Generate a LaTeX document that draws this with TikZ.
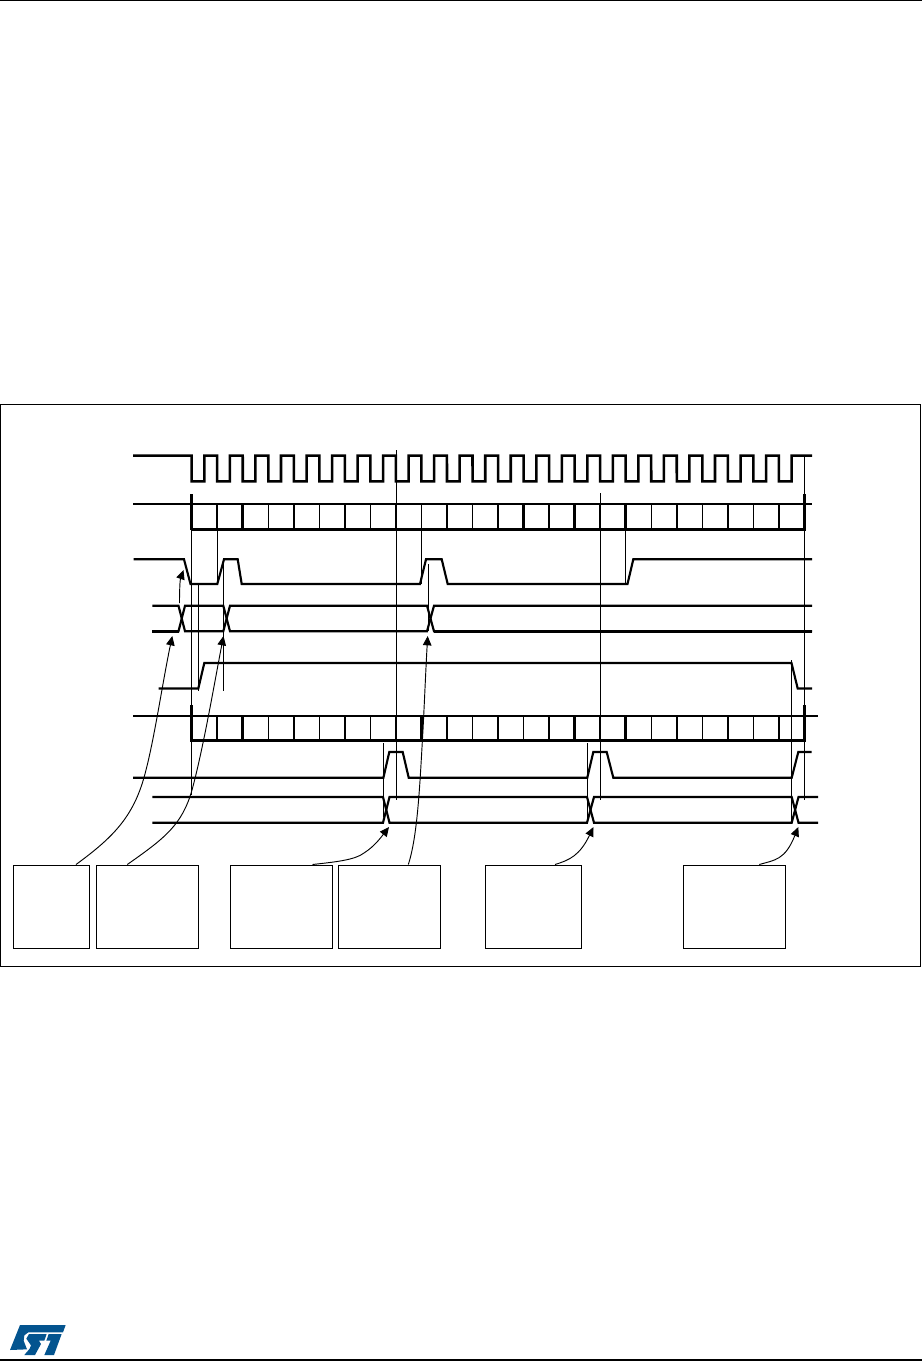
\documentclass[tikz,border=0pt]{standalone}
\usetikzlibrary{arrows.meta}
\definecolor{stblue}{RGB}{3,84,143}
\tikzset{
  x=0.75pt,y=-0.75pt,
  sig/.style={line width=1.6pt,line join=miter,black},
  clk/.style={line width=1.9pt,line join=miter,black},
  sigb/.style={line width=2pt,black},
  guide/.style={line width=0.65pt,black},
  tk/.style={line width=1.1pt,black},
  tkb/.style={line width=1.9pt,black},
  tkend/.style={line width=2.6pt,black},
  conn/.style={line width=0.7pt,black,-{Triangle[length=7pt,width=6.4pt]}},
  msgbox/.style={draw=black,line width=0.7pt,inner sep=0pt,outer sep=0pt,anchor=north west},
  rule/.style={line width=1pt,black}
}
\begin{document}
\begin{tikzpicture}
\useasboundingbox (0,0) rectangle (922,1361);
\fill[white] (0,0) rectangle (922,1361);
% page rules
\draw[rule] (0,0.5) -- (922,0.5);
\draw[rule] (0,1360) -- (922,1360);
% frame
\draw[line width=0.7pt] (0.5,404) rectangle (920,966);
% guides
\draw[guide] (191.7,494) -- (191.7,795);
\draw[guide] (396,450) -- (396,800);
\draw[guide] (600.2,493) -- (600.2,800);
\draw[guide] (804.4,456) -- (804.4,800);
\draw[guide] (217.2,529) -- (217.2,584);
\draw[guide] (198.3,584) -- (198.3,691);
\draw[guide] (223.7,559) -- (223.7,691);
\draw[guide] (421.2,529) -- (421.2,584);
\draw[guide] (428.3,564) -- (428.3,631);
\draw[guide] (625.7,529) -- (625.7,584);
\draw[guide] (791.5,660) -- (791.5,823);
\draw[guide] (383.4,743) -- (383.4,817);
\draw[guide] (587,743) -- (587,820);
% clock
\draw[clk] (133,455.7) -- (191.7,455.7)
  foreach \k in {0,...,23} { -- ({191.7+25.53*\k},481.3) -- ({204.4+25.53*\k},481.3) -- ({204.4+25.53*\k},455.7) -- ({217.2+25.53*\k},455.7) }
  -- (812,455.7);
% byte row 1
\draw[sig] (133,503.7) -- (812,503.7);
\draw[sigb] (191,529.3) -- (805.5,529.3);
\foreach \k in {1,3,5,7,8,9,10,11,12,14,16,18,19,20,21,22,23}
  \draw[tk] ({191.7+25.53*\k},503.7) -- ({191.7+25.53*\k},529.3);
\foreach \k in {2,4,6,13,15,17}
  \draw[tkb] ({191.7+25.53*\k},503.7) -- ({191.7+25.53*\k},529.3);
\foreach \k in {0,24}
  \draw[tkend] ({191.7+25.53*\k},494) -- ({191.7+25.53*\k},530);
% SCL-like wave
\draw[sig] (133.5,559.3) -- (184,559.3) -- (190.5,584) -- (217.3,584) -- (224,559.3) -- (237.7,559.3) -- (241.7,584) -- (420,584) -- (426,559.3) -- (441.7,559.3) -- (447.7,584) -- (627.5,584) -- (633.3,559.3) -- (812,559.3);
% bus pair 1
\draw[sig] (152.3,605.7) -- (178.5,605.7) -- (185,631.3) -- (223.3,631.3) -- (230,605.7) -- (427,605.7) -- (434,631.3) -- (812,631.3);
\draw[sig] (152.3,631.3) -- (178.5,631.3) -- (185,605.7) -- (223.3,605.7) -- (230,631.3) -- (427,631.3) -- (434,605.7) -- (812,605.7);
\draw[sigb] (152.3,631.3) -- (178.5,631.3);
\draw[sigb] (434,631.3) -- (812,631.3);
% enable wave
\draw[sig] (158.5,688.5) -- (198.3,688.5) -- (204.3,663) -- (791.5,663) -- (797.7,688.5) -- (812,688.5);
\draw[sigb] (204.3,663) -- (791.5,663);
% byte row 2
\draw[sig] (133,715.7) -- (818,715.7);
\draw[sigb] (191,740.7) -- (805.5,740.7);
\foreach \k in {1,3,5,7,8,10,11,12,13,14,16,18,19,20,21,22,23}
  \draw[tk] ({191.7+25.53*\k},715.7) -- ({191.7+25.53*\k},740.7);
\foreach \k in {2,4,6,9,15,17}
  \draw[tkb] ({191.7+25.53*\k},715.7) -- ({191.7+25.53*\k},740.7);
\foreach \k in {0,24}
  \draw[tkend] ({191.7+25.53*\k},705) -- ({191.7+25.53*\k},741.5);
% pulse wave
\draw[sig] (133,777.7) -- (383.4,777.7) -- (389.3,752) -- (402.7,752) -- (408.7,777.7) -- (587.3,777.7) -- (593.3,752) -- (606.7,752) -- (613.3,777.7) -- (791.7,777.7) -- (798.3,752) -- (811.7,752);
% bus pair 2
\draw[sig] (152.3,797) -- (383,797) -- (389.5,822.7) -- (587,822.7) -- (594,797) -- (791.7,797) -- (798.5,822.7) -- (818,822.7);
\draw[sig] (152.3,822.7) -- (383,822.7) -- (389.5,797) -- (587,797) -- (594,822.7) -- (791.7,822.7) -- (798.5,797) -- (818,797);
% boxes
\node[msgbox,minimum width=57pt,minimum height=62.25pt] (b1) at (13,865) {};
\node[msgbox,minimum width=76.5pt,minimum height=62.25pt] (b2) at (96,865) {};
\node[msgbox,minimum width=76.5pt,minimum height=62.25pt] (b3) at (230.3,865) {};
\node[msgbox,minimum width=76.5pt,minimum height=62.25pt] (b4) at (338.3,865) {};
\node[msgbox,minimum width=72pt,minimum height=62.25pt] (b5) at (485.3,865) {};
\node[msgbox,minimum width=76.5pt,minimum height=62.25pt] (b6) at (683.3,865) {};
% connector ends
\coordinate (s1) at (76,864.5);
\coordinate (t1) at (172.3,636);
\coordinate (s2) at (127.3,864.5);
\coordinate (t2) at (223.5,636);
\coordinate (s3) at (312.5,864.5);
\coordinate (t3) at (389,827);
\coordinate (s4) at (408.3,864.5);
\coordinate (t4) at (427.7,636);
\coordinate (s5) at (555,864.5);
\coordinate (t5) at (593.5,827);
\coordinate (s6) at (759.3,864.5);
\coordinate (t6) at (798.3,827);
\coordinate (s7) at (179.5,603);
\coordinate (t7) at (183.5,570);
% connectors
\draw[conn] (s1) .. controls (115,836) and (135,815) .. (146,770) .. controls (155,735) and (163,680) .. (t1);
\draw[conn] (s2) .. controls (165,838) and (182,825) .. (192,790) .. controls (203,750) and (215,680) .. (t2);
\draw[conn] (s3) .. controls (335,862) and (355,860) .. (364,853) .. controls (375,846) and (382,836) .. (t3);
\draw[conn] (s4) .. controls (418,835) and (420,780) .. (423,730) .. controls (425,690) and (426,665) .. (t4);
\draw[conn] (s5) .. controls (570,860) and (580,855) .. (t5);
\draw[conn] (s6) .. controls (775,860) and (785,860) .. (t6);
\draw[conn] (s7) .. controls (179.5,590) and (180,580) .. (t7);
% logo
\begin{scope}[shift={(5,1320)},x=0.25pt,y=-0.25pt]
\fill[stblue] (45,15) -- (182,15) -- (174,37) -- (70,37) -- (58,46) -- (56,62) -- (66,88) -- (15,90) -- cycle;
\fill[stblue] (72,42) -- (125,42) -- (118,62) -- (102,62) -- (108,72) -- (90,105) -- (58,105) -- (74,86) -- (78,76) -- (64,56) -- cycle;
\fill[stblue] (131,42) -- (170,42) -- (147,105) -- (118,105) -- (137,62) -- (124,62) -- cycle;
\end{scope}
\end{tikzpicture}
\end{document}
